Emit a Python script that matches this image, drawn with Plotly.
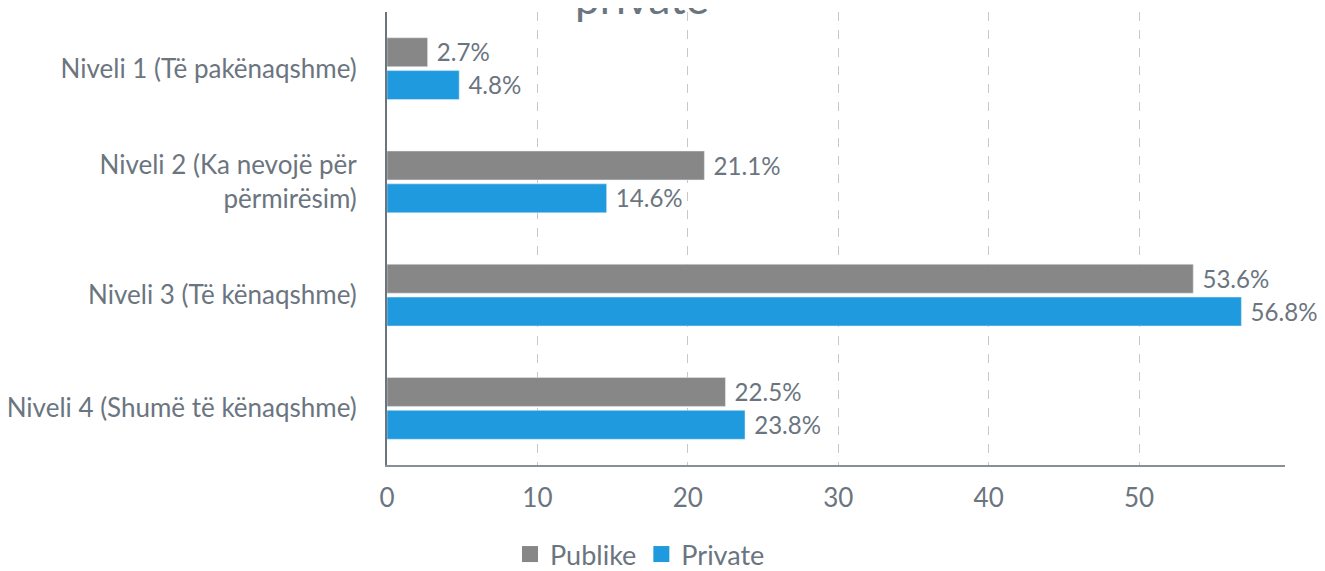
import plotly.graph_objects as go

categories = [
    "Niveli 1 (Të pakënaqshme)",
    "Niveli 2 (Ka nevojë për<br>përmirësim)",
    "Niveli 3 (Të kënaqshme)",
    "Niveli 4 (Shumë të kënaqshme)",
]
publike = [2.7, 21.1, 53.6, 22.5]
private = [4.8, 14.6, 56.8, 23.8]
series_names = ["Publike", "Private"]
x_ticks = [0, 10, 20, 30, 40, 50]
title_text = "private"

TXT = "#6b7580"
GRAY = "#878787"
BLUE = "#1f9ade"
FONT = "Lato"
FS = 26

fig = go.Figure()
for name, vals, col in [(series_names[0], publike, GRAY), (series_names[1], private, BLUE)]:
    fig.add_trace(go.Bar(
        y=categories, x=vals, orientation="h", name=name,
        marker=dict(color=col), showlegend=False,
        texttemplate="\u00a0%{x}%", textposition="outside",
        textfont=dict(family=FONT, size=27.5, color=TXT),
        cliponaxis=False,
    ))
    fig.add_trace(go.Scatter(
        x=[None], y=[None], mode="markers", name=name,
        marker=dict(symbol="square", size=16, color=col),
    ))

fig.add_annotation(
    text=title_text, xref="paper", yref="paper", x=0.284, y=1.033,
    xanchor="center", yanchor="middle", showarrow=False,
    font=dict(family=FONT, size=44, color=TXT),
)

fig.update_layout(
    width=1325, height=571,
    margin=dict(l=379, r=48, t=4, b=114, autoexpand=False),
    plot_bgcolor="white", paper_bgcolor="white",
    font=dict(family=FONT, size=FS, color=TXT),
    barmode="group", bargap=0.42, bargroupgap=0.12,
    legend=dict(orientation="h", xref="container", yref="container",
                x=0.477, xanchor="center", y=-0.044, yanchor="bottom",
                font=dict(family=FONT, size=27, color=TXT),
                itemwidth=30),
    xaxis=dict(range=[0, 59.7], tickvals=x_ticks, showgrid=True,
               gridcolor="#c8c8c8", griddash="dash", gridwidth=1,
               zeroline=False, showline=True, linecolor="#8a8f96", linewidth=2,
               ticklabelstandoff=9, automargin=False,
               tickfont=dict(size=FS, color=TXT)),
    yaxis=dict(autorange="reversed", showline=True, linecolor="#6b7580", linewidth=2,
               showgrid=False, ticklabelstandoff=23, automargin=False,
               tickfont=dict(size=FS, color=TXT)),
)
fig.write_html("out.html")
